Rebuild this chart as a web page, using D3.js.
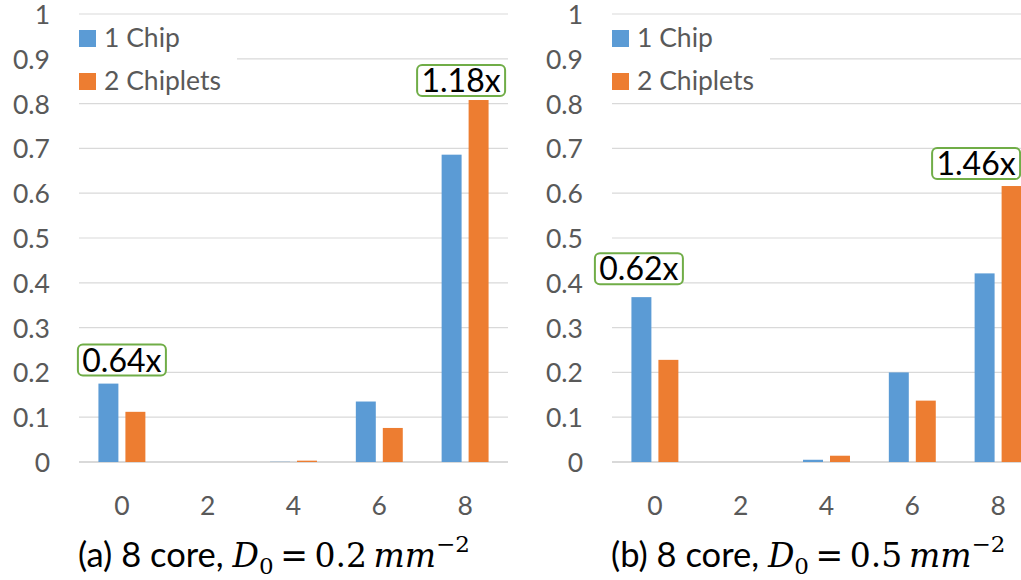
<!DOCTYPE html>
<html>
<head>
<meta charset="utf-8">
<script src="https://cdn.jsdelivr.net/npm/d3@7"></script>
<style>
  html, body { margin: 0; padding: 0; background: #fff; }
  svg { display: block; }
</style>
</head>
<body>
<svg id="chart" width="1021" height="580"></svg>
<script>
// Core counts on the x axis
const categories = ["0", "2", "4", "6", "8"];
const seriesNames = ["1 Chip", "2 Chiplets"];
const yTicks = [0, 0.1, 0.2, 0.3, 0.4, 0.5, 0.6, 0.7, 0.8, 0.9, 1];

// Panel (a): D0 = 0.2 mm^-2
const chipA     = [0.175, 0, 0.0005, 0.135, 0.686];
const chipletsA = [0.112, 0, 0.003, 0.076, 0.808];
// Panel (b): D0 = 0.5 mm^-2
const chipB     = [0.368, 0, 0.005, 0.200, 0.421];
const chipletsB = [0.228, 0, 0.014, 0.137, 0.616];

// Ratio call-outs: category index and label
const calloutsA = [{ cat: 0, label: "0.64x" }, { cat: 4, label: "1.18x" }];
const calloutsB = [{ cat: 0, label: "0.62x" }, { cat: 4, label: "1.46x" }];

const colors = ["#5b9bd5", "#ed7d31"];
const svg = d3.select("#chart");

const panels = [
  { x0: 0,   chip: chipA, chiplets: chipletsA, callouts: calloutsA,
    offsets: [[0, -8], [-4, -4]], tag: "(a)", d0: "0.2" },
  { x0: 533, chip: chipB, chiplets: chipletsB, callouts: calloutsB,
    offsets: [[-16, -13], [-22, -7]], tag: "(b)", d0: "0.5" }
];

const plotLeft = 79, plotWidth = 429, plotTop = 14, plotBottom = 462;
const sans = "Lato, sans-serif";
const serif = "'DejaVu Serif', serif";

panels.forEach(p => {
  const g = svg.append("g").attr("transform", `translate(${p.x0},0)`);

  const x = d3.scaleBand().domain(categories).range([plotLeft, plotLeft + plotWidth]);
  const inner = d3.scaleBand().domain(seriesNames)
    .range([0, x.bandwidth()]).paddingOuter(0.72).paddingInner(0.26);
  const y = d3.scaleLinear().domain([0, 1]).range([plotBottom, plotTop]);

  // Gridlines
  g.append("g").selectAll("line").data(yTicks).join("line")
    .attr("x1", plotLeft).attr("x2", plotLeft + plotWidth + (p.x0 > 0 ? 40 : 0))
    .attr("y1", d => y(d)).attr("y2", d => y(d))
    .attr("stroke", "#d9d9d9")
    .attr("stroke-width", d => d === 0 ? 2 : 1.2);

  // Y axis labels
  const yAxis = g.append("g").attr("transform", `translate(${plotLeft - 29},0)`)
    .call(d3.axisLeft(y).tickValues(yTicks).tickFormat(d3.format("~g")).tickSize(0).tickPadding(0));
  yAxis.select(".domain").remove();
  yAxis.selectAll("text")
    .attr("font-family", sans).attr("font-size", 26.5)
    .attr("fill", "#595959").attr("dy", "0.36em");

  // X axis labels
  const xAxis = g.append("g").attr("transform", `translate(0,${plotBottom + 43})`)
    .call(d3.axisBottom(x).tickSize(0).tickPadding(0));
  xAxis.select(".domain").remove();
  xAxis.selectAll("text")
    .attr("font-family", sans).attr("font-size", 26.5)
    .attr("fill", "#595959").attr("dy", "0.36em");

  // Bars
  const rows = categories.map((c, i) => ({ cat: c, vals: [p.chip[i], p.chiplets[i]] }));
  g.append("g").selectAll("g").data(rows).join("g")
    .attr("transform", d => `translate(${x(d.cat)},0)`)
    .selectAll("rect").data(d => d.vals.map((v, k) => ({ v, k })))
    .join("rect")
    .attr("x", d => inner(seriesNames[d.k]))
    .attr("width", inner.bandwidth())
    .attr("y", d => y(d.v))
    .attr("height", d => plotBottom - y(d.v))
    .attr("fill", d => colors[d.k]);

  // Legend
  const leg = g.append("g");
  leg.append("rect").attr("x", plotLeft).attr("y", 20).attr("width", 158).attr("height", 78).attr("fill", "#fff");
  seriesNames.forEach((name, k) => {
    const ly = 30 + k * 43;
    leg.append("rect").attr("x", plotLeft).attr("y", ly).attr("width", 17).attr("height", 17).attr("fill", colors[k]);
    leg.append("text").attr("x", plotLeft + 25).attr("y", ly + 17)
      .attr("font-family", sans).attr("font-size", 26.5).attr("fill", "#595959")
      .text(name);
  });

  // Ratio call-outs
  p.callouts.forEach((c, j) => {
    const i = c.cat;
    const cx = x(categories[i]) + x.bandwidth() / 2 + p.offsets[j][0];
    const by = y(Math.max(p.chip[i], p.chiplets[i])) + p.offsets[j][1];
    const w = 88, h = 31;
    const cg = g.append("g");
    cg.append("rect").attr("x", cx - w / 2).attr("y", by - h).attr("width", w).attr("height", h)
      .attr("rx", 5).attr("fill", "#fff").attr("stroke", "#70ad47").attr("stroke-width", 2);
    cg.append("text").attr("x", cx).attr("y", by - h / 2).attr("dy", "0.37em")
      .attr("text-anchor", "middle")
      .attr("font-family", sans).attr("font-size", 32).attr("fill", "#000")
      .text(c.label);
  });

  // Caption: "(x) 8 core, D0 = v mm^-2"
  const cap = g.append("text").attr("x", plotLeft - 1).attr("y", 567)
    .attr("font-family", sans).attr("font-size", 34.5).attr("fill", "#000");
  cap.append("tspan").text(`${p.tag} 8 core, `);
  cap.append("tspan").attr("font-family", serif).attr("font-style", "italic").attr("font-size", 33).text("D");
  cap.append("tspan").attr("font-family", serif).attr("font-size", 23).attr("dy", 7).text("0");
  cap.append("tspan").attr("font-family", serif).attr("font-size", 33).attr("dy", -7).text("\u2009=\u20090.2".replace("0.2", p.d0) + "\u2009");
  cap.append("tspan").attr("font-family", serif).attr("font-style", "italic").attr("font-size", 33).text("mm");
  cap.append("tspan").attr("font-family", serif).attr("font-size", 23).attr("dy", -15).text("\u22122");
});
</script>
</body>
</html>
